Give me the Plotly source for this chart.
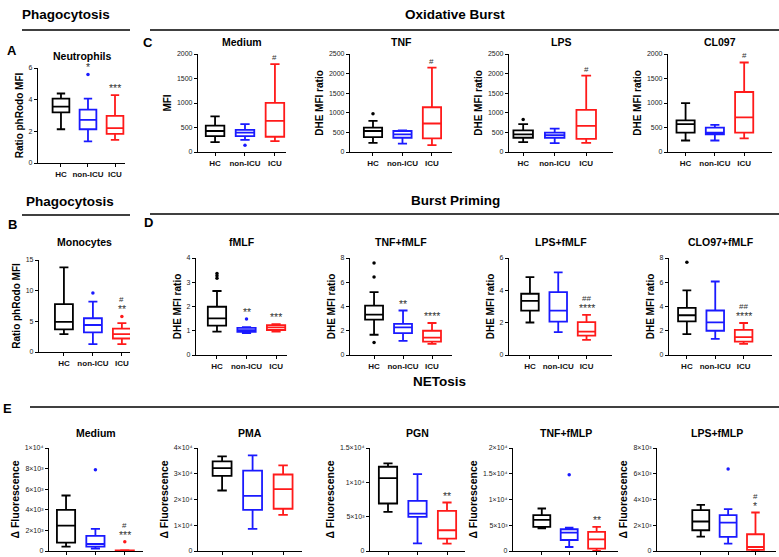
import plotly.graph_objects as go

W, H = 779, 557
GROUPS = ["HC", "non-ICU", "ICU"]
COLORS = ["#000000", "#1a1aff", "#ff1a1a"]

# each row: [lower whisker, Q1, median, Q3, upper whisker] for HC, non-ICU, ICU
neutrophils = [[2.13, 3.2, 3.56, 4.06, 4.39], [1.36, 2.13, 2.72, 3.37, 4.06], [1.46, 1.84, 2.2, 2.97, 4.29]]
neutrophils_out = [[], [5.59], []]
neutrophils_sig = [[], ["*"], ["***"]]

monocytes = [[2.9, 3.7, 4.9, 7.8, 13.8], [1.3, 3.2, 4.4, 5.5, 8.2], [1.3, 2.2, 2.9, 3.8, 4.7]]
monocytes_out = [[], [9.6], [5.8]]
monocytes_sig = [[], [], ["**", "#"]]

ob_medium = [[200, 325, 429, 540, 727], [249, 325, 394, 450, 567], [221, 311, 637, 1003, 1792]]
ob_medium_out = [[], [138], []]
ob_tnf = [[234, 381, 536, 623, 796], [216, 363, 450, 536, 554], [173, 346, 727, 1142, 2154]]
ob_tnf_out = [[977], [], []]
ob_lps = [[251, 363, 450, 554, 709], [225, 363, 433, 493, 597], [234, 337, 666, 1073, 1946]]
ob_lps_out = [[830], [], []]
ob_cl097 = [[235, 394, 567, 644, 997], [235, 360, 394, 498, 554], [277, 394, 706, 1225, 1827]]
ob_cl097_out = [[], [], []]
ob_sig = [[], [], ["#"]]

bp_fmlf = [[0.96, 1.21, 1.51, 1.99, 2.64], [0.9, 0.95, 1.02, 1.12, 1.15], [0.96, 1.03, 1.14, 1.23, 1.27]]
bp_fmlf_out = [[3.36, 3.27, 3.17], [1.48], []]
bp_fmlf_sig = [[], ["**"], ["***"]]
bp_tnf = [[1.67, 2.92, 3.33, 4.08, 5.19], [1.17, 1.81, 2.28, 2.56, 3.67], [0.92, 1.11, 1.44, 2.0, 2.64]]
bp_tnf_out = [[7.58, 6.44, 1.03], [], []]
bp_tnf_sig = [[], ["**"], ["****"]]
bp_lps = [[2.01, 2.75, 3.35, 3.79, 4.82], [1.41, 2.07, 2.75, 3.89, 5.11], [0.93, 1.2, 1.45, 2.03, 2.48]]
bp_lps_out = [[], [], []]
bp_cl097 = [[1.72, 2.78, 3.28, 3.89, 5.33], [1.33, 2.0, 2.69, 3.67, 6.06], [0.92, 1.11, 1.47, 2.08, 2.64]]
bp_cl097_out = [[7.64], [], []]
bp_sig2 = [[], [], ["****", "##"]]

net_medium = [[420, 810, 2470, 3990, 5390], [230, 420, 680, 1460, 2140], [0, 20, 40, 60, 80]]
net_medium_out = [[], [7890], [910]]
net_medium_sig = [[], [], ["***", "#"]]
net_pma = [[23500, 29200, 32200, 34800, 36750], [8570, 16000, 21400, 31200, 37100], [14000, 16400, 24000, 29700, 33250]]
net_pma_out = [[], [], []]
net_pgn = [[5700, 6920, 10620, 12270, 12760], [1120, 4970, 5450, 7300, 11200], [1070, 1800, 3020, 5840, 7060]]
net_pgn_out = [[], [], []]
net_pgn_sig = [[], [], ["**"]]
net_tnf = [[4420, 4680, 6040, 6950, 8250], [780, 2140, 3570, 4220, 4550], [0, 450, 2270, 3700, 4680]]
net_tnf_out = [[], [14800], []]
net_tnf_sig = [[], [], ["**"]]
net_lps = [[1120, 1610, 2290, 3170, 3580], [570, 1090, 2210, 2780, 3250], [0, 80, 310, 1300, 2990]]
net_lps_out = [[], [6360], []]
net_lps_sig = [[], [], ["*", "#"]]

# tick values / labels
t_neu = [0, 2, 4, 6]
t_mono = [0, 5, 10, 15]
t_2000 = [0, 500, 1000, 1500, 2000]
t_2500 = [0, 500, 1000, 1500, 2000, 2500]
t_4 = [0, 1, 2, 3, 4]
t_8 = [0, 2, 4, 6, 8]
t_6 = [0, 2, 4, 6]
t_net_med = [0, 2000, 4000, 6000, 8000, 10000]
l_net_med = ["0", "2×10³", "4×10³", "6×10³", "8×10³", "1×10⁴"]
t_pma = [0, 10000, 20000, 30000, 40000]
l_pma = ["0", "1×10⁴", "2×10⁴", "3×10⁴", "4×10⁴"]
t_pgn = [0, 5000, 10000, 15000]
l_pgn = ["0", "5×10³", "1×10⁴", "1.5×10⁴"]
t_tnfp = [0, 5000, 10000, 15000, 20000]
l_tnfp = ["0", "5×10³", "1×10⁴", "1.5×10⁴", "2×10⁴"]
t_lpsp = [0, 2000, 4000, 6000, 8000]
l_lpsp = ["0", "2×10³", "4×10³", "6×10³", "8×10³"]

FONT = "Liberation Sans, Arial, sans-serif"

# panel: title, data, outliers, sig, ticks, ticklabels, ytitle, pixel box (xl, xr, ytop, ybot), xrange, show xlabels
panels = [
    ("Neutrophils", neutrophils, neutrophils_out, neutrophils_sig, t_neu, None, "Ratio phRodo MFI", (38, 125, 68, 163), (-0.85, 2.37), True),
    ("Medium", ob_medium, ob_medium_out, ob_sig, t_2000, None, "MFI", (198, 286, 54, 152), (-0.57, 2.37), True),
    ("TNF", ob_tnf, ob_tnf_out, ob_sig, t_2500, None, "DHE MFI ratio", (350, 452, 54, 152), (-0.78, 2.68), True),
    ("LPS", ob_lps, ob_lps_out, ob_sig, t_2500, None, "DHE MFI ratio", (509, 613, 54, 152), (-0.45, 2.85), True),
    ("CL097", ob_cl097, ob_cl097_out, ob_sig, t_2000, None, "DHE MFI ratio", (668, 772, 54, 152), (-0.6, 2.95), True),
    ("Monocytes", monocytes, monocytes_out, monocytes_sig, t_mono, None, "Ratio phRodo MFI", (39, 130, 260, 352), (-0.86, 2.28), True),
    ("fMLF", bp_fmlf, bp_fmlf_out, bp_fmlf_sig, t_4, None, "DHE MFI ratio", (196, 287, 258, 355), (-0.71, 2.37), True),
    ("TNF+fMLF", bp_tnf, bp_tnf_out, bp_tnf_sig, t_8, None, "DHE MFI ratio", (350, 452, 258, 355), (-0.83, 2.69), True),
    ("LPS+fMLF", bp_lps, bp_lps_out, bp_sig2, t_6, None, "DHE MFI ratio", (509, 612, 258, 355), (-0.74, 2.9), True),
    ("CLO97+fMLF", bp_cl097, bp_cl097_out, bp_sig2, t_8, None, "DHE MFI ratio", (669, 772, 258, 355), (-0.63, 3.0), True),
    ("Medium", net_medium, net_medium_out, net_medium_sig, t_net_med, l_net_med, "Δ Fluorescence", (49, 143, 448, 551), (-0.58, 2.62), False),
    ("PMA", net_pma, net_pma_out, [[], [], []], t_pma, l_pma, "Δ Fluorescence", (198, 302, 448, 551), (-0.79, 2.62), False),
    ("PGN", net_pgn, net_pgn_out, net_pgn_sig, t_pgn, l_pgn, "Δ Fluorescence", (370, 465, 448, 551), (-0.61, 2.61), False),
    ("TNF+fMLP", net_tnf, net_tnf_out, net_tnf_sig, t_tnfp, l_tnfp, "Δ Fluorescence", (513, 618, 448, 551), (-1.05, 2.78), False),
    ("LPS+fMLP", net_lps, net_lps_out, net_lps_sig, t_lpsp, l_lpsp, "Δ Fluorescence", (657, 776, 448, 551), (-1.6, 2.75), False),
]

fig = go.Figure()
layout = {}
annotations = []
shapes = []

for i, (title, data, outs, sigs, ticks, tlabels, ytitle, box, xr, showx) in enumerate(panels):
    n = i + 1
    xa = "x" if n == 1 else f"x{n}"
    ya = "y" if n == 1 else f"y{n}"
    xl, xrpx, yt, yb = box
    ymax = ticks[-1]
    for g in range(3):
        lo, q1, med, q3, hi = data[g]
        fig.add_trace(go.Box(
            x=[g], lowerfence=[lo], q1=[q1], median=[med], q3=[q3], upperfence=[hi],
            xaxis=xa, yaxis=ya, boxpoints=False, width=0.62, whiskerwidth=0.5,
            line=dict(color=COLORS[g], width=1.8), fillcolor="rgba(0,0,0,0)",
            showlegend=False, hoverinfo="skip"))
        if outs[g]:
            fig.add_trace(go.Scatter(
                x=[g] * len(outs[g]), y=outs[g], mode="markers", xaxis=xa, yaxis=ya,
                marker=dict(size=3.5, color=COLORS[g]), showlegend=False, hoverinfo="skip"))
        top = max([hi] + outs[g])
        for k, s in enumerate(sigs[g]):
            annotations.append(dict(
                x=g, y=top, xref=xa, yref=ya, text=s, showarrow=False,
                yanchor="bottom", yshift=(-1 if "*" in s else 0) + 10 * k,
                font=dict(family=FONT, size=10.5 if "*" in s else 8, color="#333333")))
    key = "xaxis" if n == 1 else f"xaxis{n}"
    ykey = "yaxis" if n == 1 else f"yaxis{n}"
    layout[key] = dict(
        domain=[xl / W, xrpx / W], range=list(xr), anchor=ya,
        showline=True, linecolor="#000", linewidth=1.2, ticks="outside", ticklen=3,
        tickcolor="#000", tickwidth=1.1, tickvals=[0, 1, 2],
        ticktext=[f"<b>{g}</b>" for g in GROUPS], showticklabels=showx,
        tickfont=dict(family=FONT, size=8, color="#111"),
        showgrid=False, zeroline=False, fixedrange=True)
    layout[ykey] = dict(
        domain=[1 - yb / H, 1 - yt / H], range=[0, ymax], anchor=xa,
        showline=True, linecolor="#000", linewidth=1.2, ticks="outside", ticklen=3,
        tickcolor="#000", tickwidth=1.1, tickvals=ticks,
        ticktext=tlabels if tlabels else [str(t) for t in ticks],
        tickfont=dict(family=FONT, size=7, color="#222"),
        title=dict(text=f"<b>{ytitle}</b>", standoff=3,
                   font=dict(family=FONT, size=10 if "Δ" not in ytitle else 10.5, color="#000")),
        showgrid=False, zeroline=False, fixedrange=True, automargin=False)
    ty = {68: 56, 54: 42, 260: 242, 258: 242, 448: 433}[yt]
    annotations.append(dict(
        x=(xl + xrpx) / 2 / W, y=1 - ty / H, xref="paper", yref="paper",
        text=f"<b>{title}</b>", showarrow=False, xanchor="center", yanchor="middle",
        font=dict(family=FONT, size=10.5, color="#000")))

# section headers, lines and panel letters
headers = [("Phagocytosis", 66, 14), ("Oxidative Burst", 455, 14), ("Phagocytosis", 70, 202),
           ("Burst Priming", 455, 200), ("NETosis", 440, 381)]
for text, x, y in headers:
    annotations.append(dict(x=x / W, y=1 - y / H, xref="paper", yref="paper", text=f"<b>{text}</b>",
                            showarrow=False, xanchor="center", yanchor="middle",
                            font=dict(family=FONT, size=13.5, color="#000")))
lines = [(22, 130, 30), (150, 779, 30), (22, 130, 215), (150, 779, 214), (30, 779, 407)]
for x0, x1, y in lines:
    shapes.append(dict(type="line", xref="paper", yref="paper", x0=x0 / W, x1=x1 / W,
                       y0=1 - y / H, y1=1 - y / H, line=dict(color="#000", width=1.3)))
letters = [("A", 12, 50), ("C", 148, 42), ("B", 12, 224), ("D", 148, 222), ("E", 8, 408)]
for text, x, y in letters:
    annotations.append(dict(x=x / W, y=1 - y / H, xref="paper", yref="paper", text=f"<b>{text}</b>",
                            showarrow=False, xanchor="center", yanchor="middle",
                            font=dict(family=FONT, size=13, color="#000")))

fig.update_layout(
    width=W, height=H, margin=dict(l=0, r=0, t=0, b=0, pad=0, autoexpand=False),
    paper_bgcolor="#fff", plot_bgcolor="#fff", showlegend=False,
    annotations=annotations, shapes=shapes, font=dict(family=FONT), **layout)

fig.write_html("out.html", config={"displayModeBar": False},
               post_script="document.body.style.margin='0';document.body.style.overflow='hidden';")
